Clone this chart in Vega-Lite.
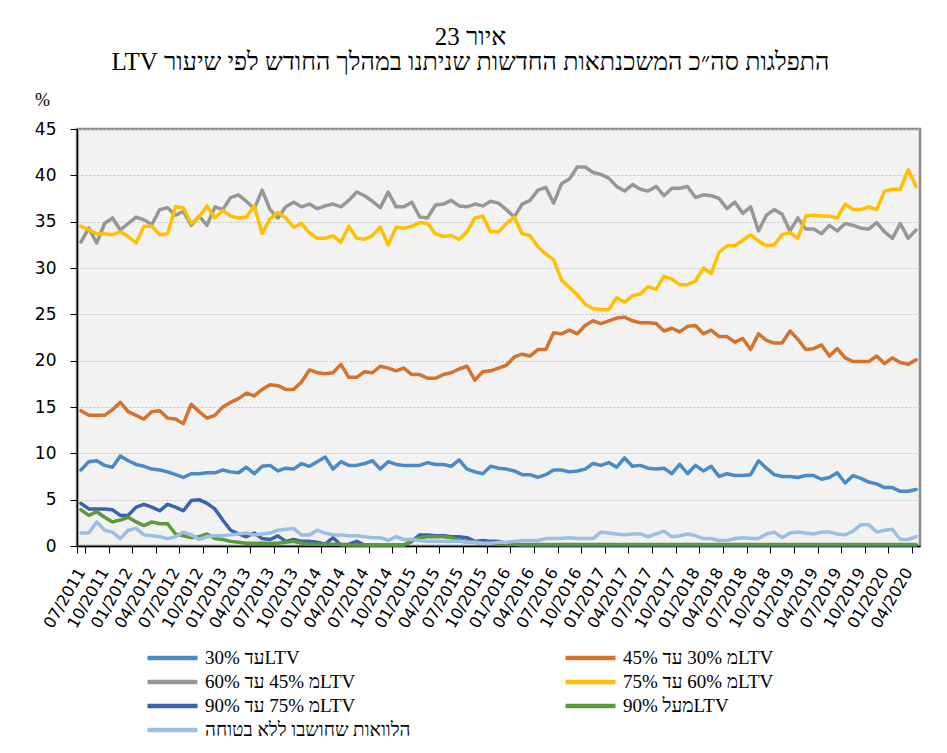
{
  "$schema": "https://vega.github.io/schema/vega-lite/v6.json",
  "width": 843,
  "height": 417,
  "autosize": {"type": "none"},
  "padding": {"left": 77, "top": 129, "right": 27, "bottom": 207},
  "background": "white",
  "title": {
    "text": ["\u202Bאיור 23\u202C", "\u202Bהתפלגות סה״כ המשכנתאות החדשות שניתנו במהלך החודש לפי שיעור LTV\u202C"],
    "font": "Liberation Serif",
    "fontSize": 25,
    "fontWeight": "normal",
    "color": "black",
    "anchor": "middle",
    "dx": -28,
    "offset": 16,
    "lineHeight": 25
  },
  "data": {
    "values": [
      {"m":"07/2011","a":8.2,"b":14.6,"c":32.8,"d":34.5,"e":4.6,"f":3.9,"g":1.4},
      {"m":"08/2011","a":9.1,"b":14.1,"c":34.3,"d":34.1,"e":4.0,"f":3.3,"g":1.4},
      {"m":"09/2011","a":9.2,"b":14.1,"c":32.7,"d":33.7,"e":4.0,"f":3.7,"g":2.6},
      {"m":"10/2011","a":8.7,"b":14.1,"c":34.8,"d":33.7,"e":4.0,"f":3.1,"g":1.7},
      {"m":"11/2011","a":8.5,"b":14.7,"c":35.4,"d":33.6,"e":3.9,"f":2.6,"g":1.5},
      {"m":"12/2011","a":9.7,"b":15.5,"c":34.1,"d":33.9,"e":3.3,"f":2.8,"g":0.8},
      {"m":"01/2012","a":9.2,"b":14.5,"c":34.8,"d":33.4,"e":3.3,"f":3.1,"g":1.7},
      {"m":"02/2012","a":8.8,"b":14.1,"c":35.5,"d":32.7,"e":4.2,"f":2.6,"g":1.9},
      {"m":"03/2012","a":8.6,"b":13.7,"c":35.2,"d":34.5,"e":4.5,"f":2.2,"g":1.2},
      {"m":"04/2012","a":8.3,"b":14.5,"c":34.7,"d":34.5,"e":4.2,"f":2.6,"g":1.1},
      {"m":"05/2012","a":8.2,"b":14.6,"c":36.3,"d":33.6,"e":3.8,"f":2.4,"g":1.0},
      {"m":"06/2012","a":8.0,"b":13.8,"c":36.5,"d":33.7,"e":4.5,"f":2.4,"g":0.8},
      {"m":"07/2012","a":7.7,"b":13.7,"c":35.7,"d":36.6,"e":4.2,"f":1.3,"g":1.0},
      {"m":"08/2012","a":7.4,"b":13.2,"c":36.1,"d":36.5,"e":3.8,"f":1.1,"g":1.5},
      {"m":"09/2012","a":7.8,"b":15.3,"c":34.6,"d":34.8,"e":4.9,"f":0.9,"g":1.2},
      {"m":"10/2012","a":7.8,"b":14.5,"c":35.6,"d":35.5,"e":5.0,"f":1.0,"g":0.7},
      {"m":"11/2012","a":7.9,"b":13.8,"c":34.6,"d":36.7,"e":4.6,"f":1.3,"g":1.0},
      {"m":"12/2012","a":7.9,"b":14.1,"c":36.6,"d":35.4,"e":4.0,"f":0.8,"g":1.1},
      {"m":"01/2013","a":8.2,"b":15.0,"c":36.3,"d":36.2,"e":2.8,"f":0.7,"g":1.1},
      {"m":"02/2013","a":8.0,"b":15.5,"c":37.6,"d":35.6,"e":1.7,"f":0.5,"g":1.2},
      {"m":"03/2013","a":7.9,"b":15.9,"c":37.9,"d":35.4,"e":1.3,"f":0.4,"g":1.3},
      {"m":"04/2013","a":8.5,"b":16.5,"c":37.2,"d":35.5,"e":1.0,"f":0.3,"g":1.4},
      {"m":"05/2013","a":7.8,"b":16.2,"c":36.4,"d":36.7,"e":1.4,"f":0.3,"g":1.2},
      {"m":"06/2013","a":8.6,"b":16.9,"c":38.4,"d":33.7,"e":0.8,"f":0.3,"g":1.3},
      {"m":"07/2013","a":8.7,"b":17.4,"c":36.3,"d":35.3,"e":0.7,"f":0.3,"g":1.4},
      {"m":"08/2013","a":8.1,"b":17.3,"c":35.4,"d":36.0,"e":1.1,"f":0.3,"g":1.7},
      {"m":"09/2013","a":8.4,"b":16.9,"c":36.6,"d":35.4,"e":0.5,"f":0.4,"g":1.8},
      {"m":"10/2013","a":8.3,"b":16.9,"c":37.1,"d":34.4,"e":0.7,"f":0.5,"g":1.9},
      {"m":"11/2013","a":8.9,"b":17.7,"c":36.6,"d":34.8,"e":0.5,"f":0.3,"g":1.2},
      {"m":"12/2013","a":8.6,"b":19.0,"c":36.9,"d":33.8,"e":0.5,"f":0.2,"g":1.2},
      {"m":"01/2014","a":9.1,"b":18.7,"c":36.4,"d":33.2,"e":0.4,"f":0.2,"g":1.7},
      {"m":"02/2014","a":9.6,"b":18.6,"c":36.7,"d":33.2,"e":0.2,"f":0.2,"g":1.4},
      {"m":"03/2014","a":8.3,"b":18.7,"c":36.9,"d":33.5,"e":0.9,"f":0.2,"g":1.2},
      {"m":"04/2014","a":9.1,"b":19.6,"c":36.6,"d":32.8,"e":0.1,"f":0.2,"g":1.2},
      {"m":"05/2014","a":8.7,"b":18.2,"c":37.3,"d":34.5,"e":0.2,"f":0.1,"g":1.1},
      {"m":"06/2014","a":8.7,"b":18.2,"c":38.2,"d":33.2,"e":0.5,"f":0.1,"g":1.1},
      {"m":"07/2014","a":8.9,"b":18.8,"c":37.8,"d":33.1,"e":0.1,"f":0.1,"g":1.0},
      {"m":"08/2014","a":9.2,"b":18.7,"c":37.2,"d":33.5,"e":0.1,"f":0.1,"g":0.9},
      {"m":"09/2014","a":8.3,"b":19.4,"c":36.5,"d":34.4,"e":0.1,"f":0.1,"g":0.9},
      {"m":"10/2014","a":9.1,"b":19.2,"c":38.2,"d":32.5,"e":0.1,"f":0.1,"g":0.6},
      {"m":"11/2014","a":8.8,"b":18.9,"c":36.6,"d":34.4,"e":0.1,"f":0.1,"g":1.0},
      {"m":"12/2014","a":8.7,"b":19.2,"c":36.6,"d":34.3,"e":0.1,"f":0.1,"g":0.7},
      {"m":"01/2015","a":8.7,"b":18.5,"c":37.1,"d":34.5,"e":0.5,"f":0.6,"g":0.7},
      {"m":"02/2015","a":8.7,"b":18.5,"c":35.5,"d":34.9,"e":1.2,"f":0.9,"g":0.6},
      {"m":"03/2015","a":9.0,"b":18.1,"c":35.4,"d":34.8,"e":1.2,"f":1.0,"g":0.5},
      {"m":"04/2015","a":8.8,"b":18.1,"c":36.8,"d":33.7,"e":1.1,"f":1.0,"g":0.5},
      {"m":"05/2015","a":8.8,"b":18.5,"c":36.9,"d":33.4,"e":1.1,"f":1.0,"g":0.5},
      {"m":"06/2015","a":8.6,"b":18.7,"c":37.3,"d":33.5,"e":1.0,"f":0.9,"g":0.5},
      {"m":"07/2015","a":9.3,"b":19.1,"c":36.7,"d":33.1,"e":1.0,"f":0.6,"g":0.5},
      {"m":"08/2015","a":8.3,"b":19.4,"c":36.6,"d":33.9,"e":0.9,"f":0.5,"g":0.4},
      {"m":"09/2015","a":8.0,"b":17.9,"c":36.9,"d":35.4,"e":0.5,"f":0.4,"g":0.4},
      {"m":"10/2015","a":7.8,"b":18.8,"c":36.7,"d":35.6,"e":0.6,"f":0.3,"g":0.3},
      {"m":"11/2015","a":8.6,"b":18.9,"c":37.2,"d":33.9,"e":0.5,"f":0.3,"g":0.3},
      {"m":"12/2015","a":8.4,"b":19.2,"c":37.0,"d":33.9,"e":0.5,"f":0.2,"g":0.4},
      {"m":"01/2016","a":8.3,"b":19.5,"c":36.3,"d":34.8,"e":0.3,"f":0.15,"g":0.4},
      {"m":"02/2016","a":8.1,"b":20.4,"c":35.5,"d":35.5,"e":0.2,"f":0.15,"g":0.5},
      {"m":"03/2016","a":7.7,"b":20.7,"c":36.9,"d":33.7,"e":0.1,"f":0.15,"g":0.6},
      {"m":"04/2016","a":7.7,"b":20.5,"c":37.3,"d":33.5,"e":0.1,"f":0.15,"g":0.6},
      {"m":"05/2016","a":7.4,"b":21.2,"c":38.4,"d":32.3,"e":0.1,"f":0.15,"g":0.6},
      {"m":"06/2016","a":7.7,"b":21.2,"c":38.7,"d":31.5,"e":0.1,"f":0.15,"g":0.8},
      {"m":"07/2016","a":8.2,"b":23.0,"c":37.0,"d":30.9,"e":0.1,"f":0.15,"g":0.8},
      {"m":"08/2016","a":8.2,"b":22.9,"c":39.1,"d":28.7,"e":0.1,"f":0.15,"g":0.8},
      {"m":"09/2016","a":8.0,"b":23.3,"c":39.6,"d":27.9,"e":0.1,"f":0.15,"g":0.9},
      {"m":"10/2016","a":8.1,"b":22.9,"c":40.9,"d":27.1,"e":0.1,"f":0.15,"g":0.8},
      {"m":"11/2016","a":8.3,"b":23.8,"c":40.9,"d":26.1,"e":0.1,"f":0.15,"g":0.8},
      {"m":"12/2016","a":8.9,"b":24.3,"c":40.3,"d":25.6,"e":0.1,"f":0.15,"g":0.8},
      {"m":"01/2017","a":8.7,"b":24.0,"c":40.1,"d":25.5,"e":0.1,"f":0.15,"g":1.5},
      {"m":"02/2017","a":9.0,"b":24.3,"c":39.7,"d":25.5,"e":0.1,"f":0.15,"g":1.4},
      {"m":"03/2017","a":8.5,"b":24.6,"c":38.8,"d":26.8,"e":0.1,"f":0.15,"g":1.3},
      {"m":"04/2017","a":9.5,"b":24.7,"c":38.3,"d":26.3,"e":0.1,"f":0.15,"g":1.2},
      {"m":"05/2017","a":8.6,"b":24.3,"c":39.0,"d":27.0,"e":0.1,"f":0.15,"g":1.3},
      {"m":"06/2017","a":8.7,"b":24.1,"c":38.5,"d":27.2,"e":0.1,"f":0.15,"g":1.3},
      {"m":"07/2017","a":8.4,"b":24.1,"c":38.3,"d":28.0,"e":0.1,"f":0.15,"g":1.0},
      {"m":"08/2017","a":8.3,"b":24.0,"c":38.8,"d":27.7,"e":0.1,"f":0.15,"g":1.3},
      {"m":"09/2017","a":8.4,"b":23.2,"c":37.8,"d":29.1,"e":0.1,"f":0.15,"g":1.6},
      {"m":"10/2017","a":7.8,"b":23.5,"c":38.6,"d":28.8,"e":0.1,"f":0.15,"g":1.0},
      {"m":"11/2017","a":8.8,"b":23.1,"c":38.6,"d":28.2,"e":0.1,"f":0.15,"g":1.1},
      {"m":"12/2017","a":7.8,"b":23.7,"c":38.8,"d":28.2,"e":0.1,"f":0.15,"g":1.3},
      {"m":"01/2018","a":8.7,"b":23.8,"c":37.6,"d":28.6,"e":0.1,"f":0.15,"g":1.1},
      {"m":"02/2018","a":8.1,"b":22.9,"c":37.9,"d":30.0,"e":0.1,"f":0.15,"g":0.8},
      {"m":"03/2018","a":8.6,"b":23.3,"c":37.8,"d":29.4,"e":0.1,"f":0.15,"g":0.8},
      {"m":"04/2018","a":7.5,"b":22.6,"c":37.5,"d":31.7,"e":0.1,"f":0.15,"g":0.6},
      {"m":"05/2018","a":7.8,"b":22.6,"c":36.4,"d":32.4,"e":0.1,"f":0.15,"g":0.6},
      {"m":"06/2018","a":7.6,"b":22.0,"c":37.1,"d":32.4,"e":0.1,"f":0.15,"g":0.8},
      {"m":"07/2018","a":7.6,"b":22.4,"c":35.9,"d":33.0,"e":0.1,"f":0.15,"g":0.9},
      {"m":"08/2018","a":7.7,"b":21.2,"c":36.6,"d":33.6,"e":0.1,"f":0.15,"g":0.8},
      {"m":"09/2018","a":9.2,"b":22.9,"c":34.0,"d":32.9,"e":0.1,"f":0.15,"g":0.8},
      {"m":"10/2018","a":8.4,"b":22.2,"c":35.7,"d":32.4,"e":0.1,"f":0.15,"g":1.3},
      {"m":"11/2018","a":7.7,"b":21.9,"c":36.3,"d":32.5,"e":0.1,"f":0.15,"g":1.5},
      {"m":"12/2018","a":7.5,"b":21.9,"c":35.8,"d":33.6,"e":0.1,"f":0.15,"g":0.9},
      {"m":"01/2019","a":7.5,"b":23.2,"c":34.0,"d":33.8,"e":0.1,"f":0.15,"g":1.4},
      {"m":"02/2019","a":7.4,"b":22.3,"c":35.4,"d":33.2,"e":0.1,"f":0.15,"g":1.5},
      {"m":"03/2019","a":7.6,"b":21.2,"c":34.2,"d":35.6,"e":0.1,"f":0.15,"g":1.4},
      {"m":"04/2019","a":7.6,"b":21.3,"c":34.2,"d":35.7,"e":0.1,"f":0.15,"g":1.3},
      {"m":"05/2019","a":7.2,"b":21.7,"c":33.7,"d":35.6,"e":0.1,"f":0.15,"g":1.5},
      {"m":"06/2019","a":7.4,"b":20.5,"c":34.6,"d":35.6,"e":0.1,"f":0.15,"g":1.5},
      {"m":"07/2019","a":7.9,"b":21.3,"c":34.0,"d":35.4,"e":0.1,"f":0.15,"g":1.3},
      {"m":"08/2019","a":6.8,"b":20.3,"c":34.8,"d":36.9,"e":0.1,"f":0.15,"g":1.2},
      {"m":"09/2019","a":7.6,"b":19.9,"c":34.6,"d":36.3,"e":0.1,"f":0.15,"g":1.6},
      {"m":"10/2019","a":7.3,"b":19.9,"c":34.3,"d":36.3,"e":0.1,"f":0.15,"g":2.3},
      {"m":"11/2019","a":6.9,"b":19.9,"c":34.2,"d":36.6,"e":0.1,"f":0.15,"g":2.3},
      {"m":"12/2019","a":6.7,"b":20.5,"c":34.9,"d":36.3,"e":0.1,"f":0.15,"g":1.5},
      {"m":"01/2020","a":6.3,"b":19.7,"c":33.9,"d":38.3,"e":0.1,"f":0.15,"g":1.7},
      {"m":"02/2020","a":6.3,"b":20.3,"c":33.2,"d":38.5,"e":0.1,"f":0.15,"g":1.8},
      {"m":"03/2020","a":5.9,"b":19.8,"c":34.8,"d":38.5,"e":0.1,"f":0.15,"g":0.7},
      {"m":"04/2020","a":5.9,"b":19.6,"c":33.2,"d":40.6,"e":0.1,"f":0.15,"g":0.7},
      {"m":"05/2020","a":6.1,"b":20.1,"c":34.1,"d":38.8,"e":0.1,"f":0.15,"g":1.0}
    ]
  },
  "transform": [{"fold": ["a", "b", "c", "d", "e", "f", "g"], "as": ["s", "v"]}],
  "mark": {"type": "line", "strokeWidth": 3.5, "strokeJoin": "round", "strokeCap": "round"},
  "encoding": {
    "x": {
      "field": "m",
      "type": "ordinal",
      "sort": null,
      "scale": {"type": "band", "paddingInner": 0, "paddingOuter": 0},
      "axis": {
        "title": null,
        "values": ["07/2011","10/2011","01/2012","04/2012","07/2012","10/2012","01/2013","04/2013","07/2013","10/2013","01/2014","04/2014","07/2014","10/2014","01/2015","04/2015","07/2015","10/2015","01/2016","04/2016","07/2016","10/2016","01/2017","04/2017","07/2017","10/2017","01/2018","04/2018","07/2018","10/2018","01/2019","04/2019","07/2019","10/2019","01/2020","04/2020"],
        "labelAngle": -60,
        "labelFont": "DejaVu Sans",
        "labelFontSize": 16,
        "labelColor": "black",
        "labelPadding": 16,
        "labelOverlap": false,
        "labelBound": false,
        "labelFlush": false,
        "tickBand": "extent",
        "tickSize": 7,
        "tickColor": "black",
        "domainColor": "black",
        "domainWidth": 1.5,
        "grid": false
      }
    },
    "y": {
      "field": "v",
      "type": "quantitative",
      "scale": {"domain": [0, 45], "nice": false},
      "axis": {
        "title": "%",
        "titleAngle": 0,
        "titleX": -35,
        "titleY": -29,
        "titleAlign": "center",
        "titleBaseline": "middle",
        "titleFont": "Liberation Serif",
        "titleFontSize": 18,
        "titleFontWeight": "normal",
        "titleColor": "black",
        "values": [0, 5, 10, 15, 20, 25, 30, 35, 40, 45],
        "labelFont": "DejaVu Sans",
        "labelFontSize": 17,
        "labelColor": "black",
        "labelPadding": 14,
        "tickSize": 7,
        "tickColor": "black",
        "domainColor": "black",
        "domainWidth": 1.5,
        "grid": true,
        "gridColor": "#c4c4c4",
        "gridDash": [2, 2],
        "gridWidth": 1
      }
    },
    "color": {
      "field": "s",
      "type": "nominal",
      "scale": {
        "domain": ["a", "c", "e", "g", "b", "d", "f"],
        "range": ["#4a8bc6", "#979797", "#3a62ae", "#9bbfe3", "#d5722b", "#ffc000", "#5a9a3a"]
      },
      "legend": {
        "title": null,
        "orient": "none",
        "legendX": 68,
        "legendY": 518,
        "columns": 2,
        "columnPadding": 152,
        "rowPadding": 2,
        "clipHeight": 22,
        "padding": 0,
        "symbolType": "stroke",
        "symbolSize": 2500,
        "symbolStrokeWidth": 4.5,
        "labelFont": "Liberation Serif",
        "labelFontSize": 19,
        "labelColor": "black",
        "labelOffset": 5,
        "labelLimit": 400,
        "labelExpr": "datum.value == 'a' ? '\u202BLTVעד 30%\u202C' : datum.value == 'b' ? '\u202BLTVמ 30% עד 45%\u202C' : datum.value == 'c' ? '\u202BLTVמ 45% עד 60%\u202C' : datum.value == 'd' ? '\u202BLTVמ 60% עד 75%\u202C' : datum.value == 'e' ? '\u202BLTVמ 75% עד 90%\u202C' : datum.value == 'f' ? '\u202BLTVמעל 90%\u202C' : '\u202Bהלוואות שחושבו ללא בטוחה\u202C'"
      }
    }
  },
  "config": {
    "view": {"fill": "#f2f2f2", "stroke": "#8c8c8c", "strokeWidth": 2.5}
  }
}
